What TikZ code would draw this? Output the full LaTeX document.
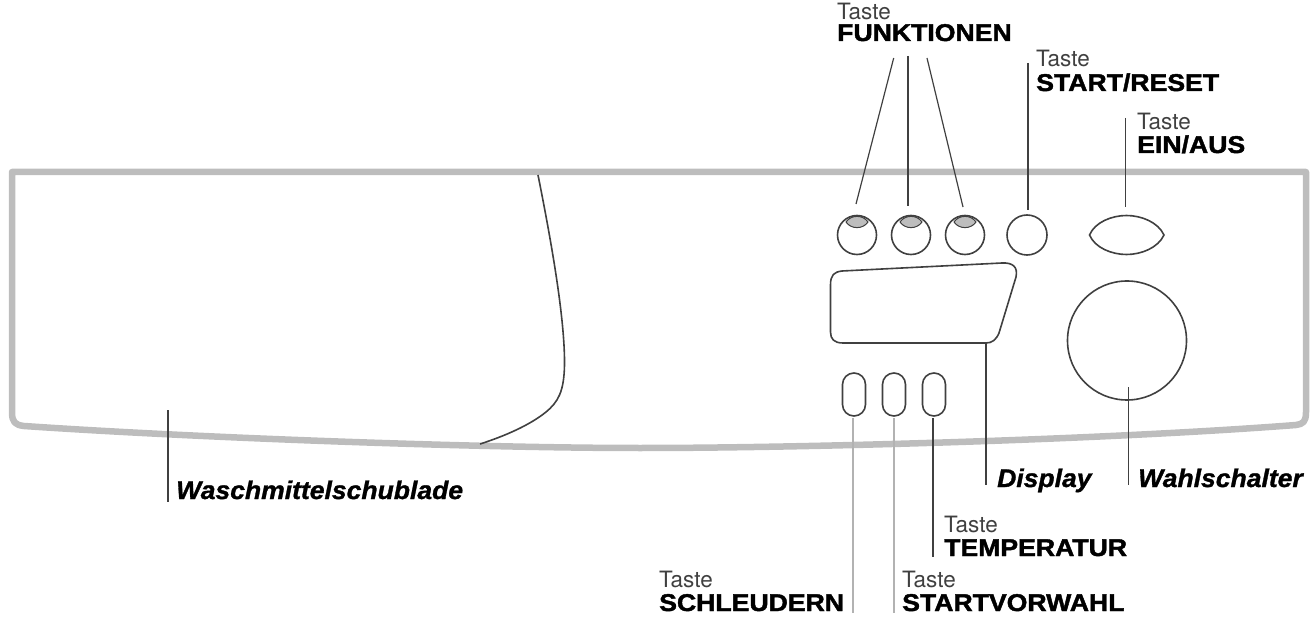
\documentclass[tikz,border=0pt]{standalone}
\usepackage{fontspec}
\setmainfont{Liberation Sans}
\newfontfamily\heavyfont[FakeBold=1.8,FakeStretch=1.1]{Liberation Sans Bold}
\newfontfamily\heavyital[FakeBold=1.2,FakeStretch=1.04]{Liberation Sans Bold Italic}
\newfontfamily\lightfont{TeX Gyre Heros}
\definecolor{framegray}{gray}{0.74}
\definecolor{inkgray}{gray}{0.25}
\definecolor{leadgray}{gray}{0.7}
\tikzset{
  panel/.style={draw=framegray,line width=6.5pt,line join=round},
  ink/.style={draw=inkgray,line width=1.6pt},
  btn/.style={ink,circle,inner sep=0pt,minimum size=39pt},
  pill/.style={ink,rounded corners=11.5pt,inner sep=0pt,minimum width=23pt,minimum height=43pt},
  lead/.style={draw=inkgray,line width=1.2pt},
  leadlight/.style={draw=leadgray,line width=1.3pt},
  tasteword/.style={anchor=base west,inner sep=0pt,text=inkgray,font=\lightfont\fontsize{22.5}{24}\selectfont},
  keyword/.style={anchor=base west,inner sep=0pt,text=black,font=\heavyfont\fontsize{24.2}{26}\selectfont},
  itword/.style={anchor=base west,inner sep=0pt,text=black,font=\heavyital\fontsize{25.5}{26}\selectfont},
}
\begin{document}
\begin{tikzpicture}[x=1pt,y=-1pt]
\useasboundingbox (0,0) rectangle (1315,620);
% panel
\draw[panel] (12,172) -- (1306,172) -- (1306,412)
  .. controls (1306,422) and (1303,424) .. (1296,425)
  .. controls (1100,440) and (800,448) .. (640,448)
  .. controls (480,448) and (200,438) .. (24,426)
  .. controls (15,425) and (12,422) .. (12,412) -- cycle;
% drawer
\coordinate (drawerTop) at (538,175);
\coordinate (drawerBot) at (480,444);
\draw[ink] (drawerTop) .. controls (552,245) and (565,320) .. (564.5,365)
  .. controls (564,392) and (558,402) .. (546,412)
  .. controls (530,425) and (505,436) .. (drawerBot);
% buttons
\foreach \n/\x in {f1/857,f2/911,f3/965}{
  \node[btn] (\n) at (\x,235) {};
  \fill[framegray,draw=inkgray,line width=1pt] (\x-11,222) .. controls (\x-6,214.5) and (\x+6,214.5) .. (\x+11,222)
     .. controls (\x+6,229.5) and (\x-6,229.5) .. (\x-11,222) -- cycle;
}
\node[btn,minimum size=40pt] (st) at (1027,235) {};
\coordinate (lensL) at (1089.5,235);
\coordinate (lensR) at (1164,235);
\draw[ink] (lensL) .. controls (1095,222) and (1112,215.5) .. (1126.5,215.5)
  .. controls (1141,215.5) and (1158,222) .. (lensR)
  .. controls (1158,248) and (1141,254.5) .. (1126.5,254.5)
  .. controls (1112,254.5) and (1095,248) .. (lensL) -- cycle;
% display
\coordinate (dispB) at (986,343);
\draw[ink] (830.5,285) .. controls (830.5,275) and (834,272) .. (842,271)
  -- (1002,263) .. controls (1013,262.5) and (1018,267) .. (1016,277)
  -- (999,333) .. controls (996,340) and (992,343) .. (986,343)
  -- (843,343) .. controls (834,343) and (830.5,339) .. (830.5,332) -- cycle;
% dial
\node[ink,circle,inner sep=0pt,minimum size=119pt] (dial) at (1127,340.5) {};
% pills
\node[pill] (p1) at (854,394.5) {};
\node[pill] (p2) at (894,394.5) {};
\node[pill] (p3) at (934,394.5) {};
% labels
\node[tasteword] (tF) at (837,19.5) {Taste};
\node[keyword] (kF) at (837,41) {FUNKTIONEN};
\node[tasteword] (tS) at (1036,67) {Taste};
\node[keyword] (kS) at (1036,91) {START/RESET};
\node[tasteword] (tE) at (1137,130) {Taste};
\node[keyword] (kE) at (1137,153) {EIN/AUS};
\node[tasteword] (tT) at (944,532) {Taste};
\node[keyword] (kT) at (944,556) {TEMPERATUR};
\node[tasteword] (tC) at (659,587) {Taste};
\node[keyword] (kC) at (659,611) {SCHLEUDERN};
\node[tasteword] (tV) at (902,587) {Taste};
\node[keyword] (kV) at (902,611) {STARTVORWAHL};
\node[itword] (wD) at (997,487) {Display};
\node[itword] (wW) at (1138,487) {Wahlschalter};
\node[itword] (wS) at (176,499) {Waschmittelschublade};
% leader ends
\coordinate (a1) at (893.7,58);
\coordinate (a2) at (908,56);
\coordinate (a3) at (927,58);
\coordinate (b1) at (856,204);
\coordinate (b2) at (908,206);
\coordinate (b3) at (963,207);
\coordinate (a4) at (1028,63);
\coordinate (b4) at (1028,210);
\coordinate (a5) at (1125.5,118);
\coordinate (b5) at (1125.5,207);
\coordinate (c1) at (853,418);
\coordinate (d1) at (853,613);
\coordinate (c2) at (894,418);
\coordinate (d2) at (894,613);
\coordinate (c3) at (933,418);
\coordinate (d3) at (933,557);
\coordinate (d4) at (986,485);
\coordinate (c5) at (1128.5,387);
\coordinate (d5) at (1128.5,485);
\coordinate (c6) at (168,410);
\coordinate (d6) at (168,502);
\draw[lead] (a1) -- (b1);
\draw[lead] (a2) -- (b2);
\draw[lead] (a3) -- (b3);
\draw[lead] (a4) -- (b4);
\draw[lead] (a5) -- (b5);
\draw[leadlight] (c1) -- (d1);
\draw[leadlight] (c2) -- (d2);
\draw[lead] (c3) -- (d3);
\draw[lead] (dispB) -- (d4);
\draw[lead] (c5) -- (d5);
\draw[lead] (c6) -- (d6);
\end{tikzpicture}
\end{document}
